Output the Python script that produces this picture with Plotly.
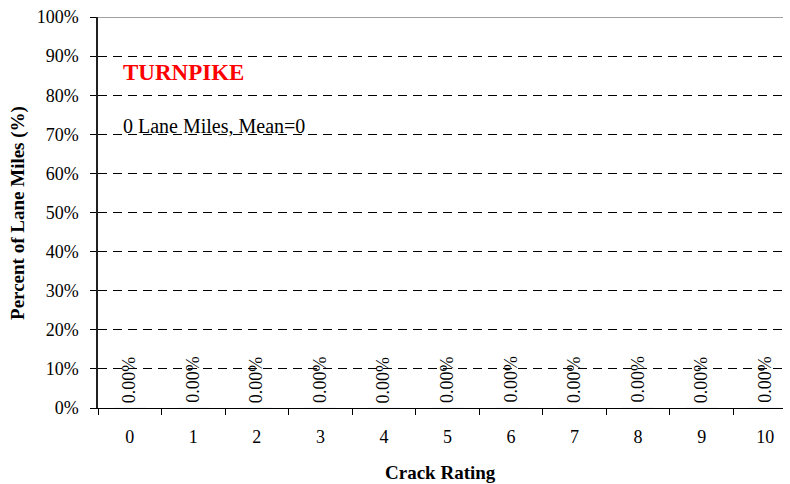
import plotly.graph_objects as go

categories = ["0", "1", "2", "3", "4", "5", "6", "7", "8", "9", "10"]
percent_values = [0.0, 0.0, 0.0, 0.0, 0.0, 0.0, 0.0, 0.0, 0.0, 0.0, 0.0]
y_tick_values = [0, 0.1, 0.2, 0.3, 0.4, 0.5, 0.6, 0.7, 0.8, 0.9, 1.0]
y_tick_labels = ["0%", "10%", "20%", "30%", "40%", "50%", "60%", "70%", "80%", "90%", "100%"]
title_text = "TURNPIKE"
summary_text = "0 Lane Miles, Mean=0"
x_title = "Crack Rating"
y_title = "Percent of Lane Miles (%)"

FONT = "Liberation Serif, Times New Roman, serif"

fig = go.Figure()
fig.add_trace(go.Bar(
    x=categories, y=percent_values,
    marker=dict(color="#000080"),
    width=0.5,
    hoverinfo="x+y",
))

annotations = []
for c, v in zip(categories, percent_values):
    annotations.append(dict(
        x=c, y=v, xref="x", yref="y",
        text=f"{v*100:.2f}%", textangle=-90,
        showarrow=False, xanchor="center", yanchor="bottom",
        yshift=3, xshift=-1,
        font=dict(family=FONT, size=18, color="black"),
    ))

annotations += [
    dict(x=0.034, y=0.858, xref="paper", yref="paper", text=f"<b>{title_text}</b>",
         showarrow=False, xanchor="left", yanchor="middle",
         font=dict(family=FONT, size=23, color="#ff0000")),
    dict(x=0.034, y=0.72, xref="paper", yref="paper", text=summary_text,
         showarrow=False, xanchor="left", yanchor="middle",
         font=dict(family=FONT, size=20, color="black")),
    dict(x=0.5, y=-0.165, xref="paper", yref="paper", text=f"<b>{x_title}</b>",
         showarrow=False, xanchor="center", yanchor="middle",
         font=dict(family=FONT, size=19, color="black")),
    dict(x=-0.1176, y=0.5, xref="paper", yref="paper", text=f"<b>{y_title}</b>",
         textangle=-90, showarrow=False, xanchor="center", yanchor="middle",
         font=dict(family=FONT, size=19, color="black")),
]

fig.update_layout(
    width=790, height=484,
    margin=dict(l=98, r=7, t=15, b=76),
    paper_bgcolor="white", plot_bgcolor="white",
    showlegend=False,
    font=dict(family=FONT, size=18, color="black"),
    annotations=annotations,
    shapes=[dict(type="line", xref="paper", yref="y", x0=0, x1=1, y0=1, y1=1,
                 line=dict(color="#a0a0a0", width=2), layer="above")],
    xaxis=dict(
        type="category", categoryorder="array", categoryarray=categories,
        range=[-0.5, 10.28], tickson="boundaries",
        ticks="outside", ticklen=6, tickcolor="black", tickwidth=1,
        showline=True, linecolor="black", linewidth=1,
        showgrid=False, ticklabelstandoff=12,
        tickfont=dict(family=FONT, size=18, color="black"),
    ),
    yaxis=dict(
        range=[0, 1.0], tickvals=y_tick_values, ticktext=y_tick_labels,
        ticks="outside", ticklen=6, tickcolor="black", tickwidth=1,
        showline=True, linecolor="#202020", linewidth=1.5,
        showgrid=True, gridcolor="black", gridwidth=1, griddash="9px,6px",
        zeroline=False, ticklabelstandoff=8,
        tickfont=dict(family=FONT, size=18, color="black"),
    ),
)

fig.write_html(
    "out.html",
    config={"displayModeBar": False},
    post_script="document.body.style.margin='0';document.body.style.overflow='hidden';",
)
